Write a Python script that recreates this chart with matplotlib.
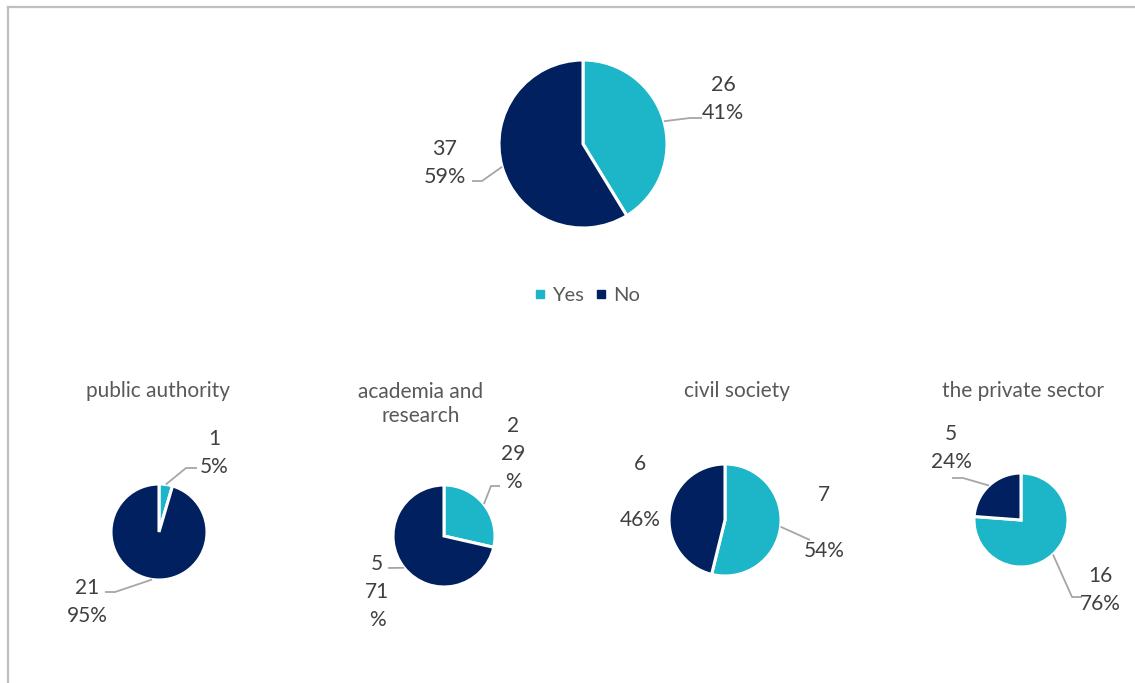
import numpy as np
import matplotlib.pyplot as plt
from matplotlib.lines import Line2D

plt.rcParams['font.family'] = ['Lato', 'DejaVu Sans']

W, H = 1135, 683

answers = ["Yes", "No"]
colors = ["#1DB6C9", "#002060"]

# all respondents
total_counts = [26, 37]

# split by sector
groups = ["public authority", "academia and\nresearch", "civil society", "the private sector"]
yes_counts = [1, 2, 7, 16]
no_counts = [21, 5, 6, 5]

TEXT = "#404040"
TITLE = "#595959"
LEADER = "#A6A6A6"


def Y(y):
    # layout is worked out in pixels from the top edge
    return H - y


def label_lines(v, total, style):
    pct = round(100 * v / total)
    if style == "wrap":
        return [str(v), str(pct), "%"]
    if style == "gap":
        return [str(v), "", f"{pct}%"]
    return [str(v), f"{pct}%"]


def draw_pie(ax, values, cx, cy, r, labels, style="plain", size=15):
    wedges, _ = ax.pie(values, colors=colors, startangle=90, counterclock=False,
                       center=(cx, Y(cy)), radius=r,
                       wedgeprops=dict(edgecolor="white", linewidth=2.2))
    total = sum(values)
    for w, v, (tx, ty, elbow) in zip(wedges, values, labels):
        if elbow:
            a = np.deg2rad((w.theta1 + w.theta2) / 2)
            xs = [cx + r * np.cos(a)] + [p[0] for p in elbow]
            ys = [Y(cy) + r * np.sin(a)] + [Y(p[1]) for p in elbow]
            ax.plot(xs, ys, color=LEADER, lw=1.3, solid_capstyle="butt")
        for i, line in enumerate(label_lines(v, total, style)):
            ax.text(tx, Y(ty + i * 28), line, ha="center", va="center_baseline",
                    fontsize=size, color=TEXT)
    return wedges


fig = plt.figure(figsize=(W / 100, H / 100), dpi=100)
ax = fig.add_axes([0, 0, 1, 1])

# overall pie
top = draw_pie(ax, total_counts, 583, 144, 84,
               [(723, 83, [(690, 118), (702, 118)]),
                (445, 147, [(482, 181), (472, 181)])], size=15.5)

handles = [Line2D([], [], ls="none", marker="s", ms=6, color=c) for c in colors]
ax.legend(handles, answers, loc="center", bbox_to_anchor=(586, Y(295)),
          bbox_transform=ax.transData, ncol=2, frameon=False, fontsize=14.5,
          handlelength=0.7, handletextpad=0.25, columnspacing=0.5,
          labelcolor=TITLE)

# sector pies
centers = [(159, 532), (444, 536), (725, 520), (1021, 520)]
radii = [48, 51, 56, 47]
title_pos = [(158, 391), (421, 404), (737, 391), (1023, 391)]
label_pos = [
    [(214, 437, [(186, 468), (197, 468)]), (87, 586, [(115, 592), (105, 592)])],
    [(513, 424, [(491, 486), (500, 486)]), (377, 562, [(388, 568)])],
    [(824, 493, [(810, 540)]), (640, 462, None)],
    [(1100, 574, [(1072, 597), (1082, 597)]), (951, 432, [(963, 478), (952, 478)])],
]
styles = ["plain", "wrap", "gap", "plain"]

for g, yv, nv, (cx, cy), r, (tx, ty), lp, st in zip(groups, yes_counts, no_counts, centers,
                                                   radii, title_pos, label_pos, styles):
    draw_pie(ax, [yv, nv], cx, cy, r, lp, style=st)
    ax.text(tx, Y(ty), g, ha="center", va="center", fontsize=15, color=TITLE,
            linespacing=1.2)

ax.set_xlim(0, W)
ax.set_ylim(0, H)
ax.set_aspect("equal")
ax.axis("off")

# chart area border (cut off on the right and bottom)
ax.plot([8, W], [Y(7), Y(7)], color="#BFBFBF", lw=1.6, clip_on=False)
ax.plot([8, 8], [Y(7), 0], color="#BFBFBF", lw=1.6, clip_on=False)

fig.savefig("out.png", dpi=100)
